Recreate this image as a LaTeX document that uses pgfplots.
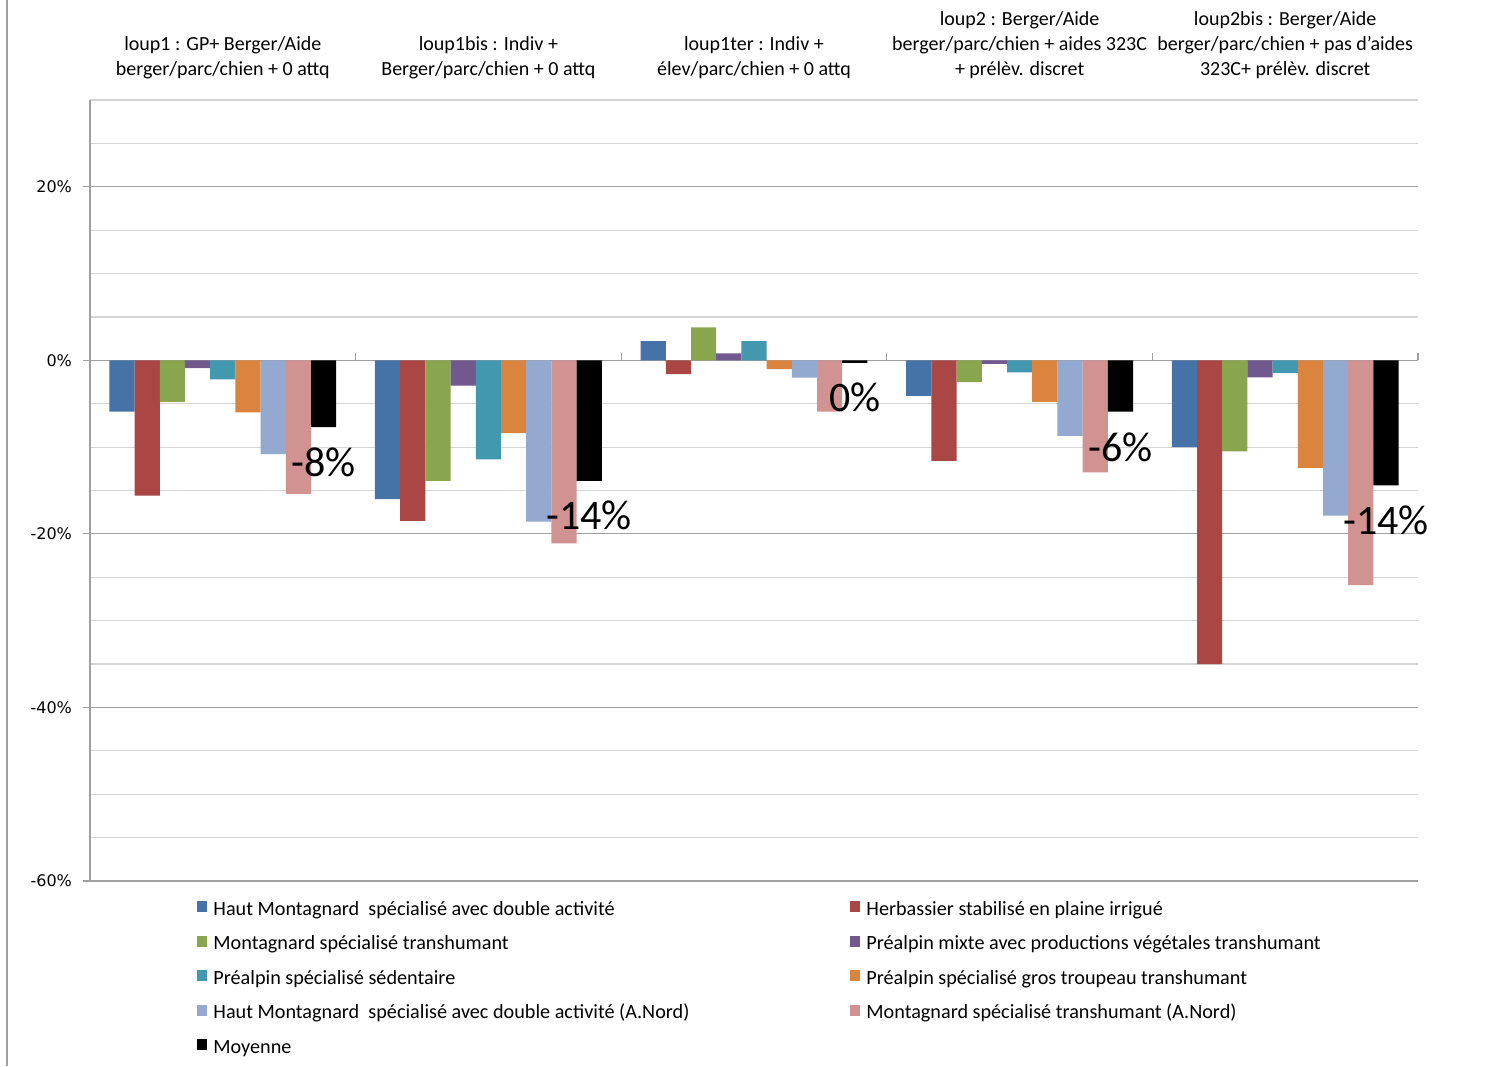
\documentclass[border=0pt]{standalone}
\usepackage{fontspec}
\setmainfont{Carlito}
\newfontfamily\tickfont{DejaVu Sans}
\usepackage{pgfplots}
\pgfplotsset{compat=1.18}
\definecolor{c1}{HTML}{4572A7}
\definecolor{c2}{HTML}{AA4643}
\definecolor{c3}{HTML}{89A54E}
\definecolor{c4}{HTML}{71588F}
\definecolor{c5}{HTML}{4198AF}
\definecolor{c6}{HTML}{DB843D}
\definecolor{c7}{HTML}{93A9CF}
\definecolor{c8}{HTML}{D19392}
\definecolor{c9}{HTML}{000000}
\definecolor{gridc}{HTML}{A0A0A0}
\definecolor{gridm}{HTML}{D4D4D4}
\newcommand{\cw}[1]{\makebox[315.5pt][l]{#1}}
\begin{document}
\begin{tikzpicture}
\useasboundingbox (-45pt,-92.5pt) rectangle (707pt,440.5pt);
\fill[white] (-45pt,-92.5pt) rectangle (707pt,440.5pt);
\draw[gridc, line width=0.8pt] (-41.5pt,-92.5pt) -- (-41.5pt,440.5pt);
\begin{axis}[
  scale only axis, width=664pt, height=390.5pt,
  xmin=-0.5, xmax=4.5, ymin=-60, ymax=30,
  clip mode=individual,
  ybar=0pt, bar width=12.6pt,
  axis y line*=left, axis x line*=top,
  x axis line style={draw=none},
  y axis line style={draw=gridc, line width=0.6pt},
  tick align=outside, major tick length=3.5pt,
  xtick={0,1,2,3,4},
  major x tick style={draw=none},
  xticklabels={{loup1 : GP+ Berger/Aide\\berger/parc/chien + 0 attq},
    {loup1bis : Indiv +\\Berger/parc/chien + 0 attq},
    {loup1ter : Indiv +\\élev/parc/chien + 0 attq},
    {loup2 : Berger/Aide\\berger/parc/chien + aides 323C\\+ prélèv. discret},
    {loup2bis : Berger/Aide\\berger/parc/chien + pas d’aides\\323C+ prélèv. discret}},
  xticklabel style={align=center, anchor=south, inner sep=0pt, yshift=7pt,
    font=\fontsize{10}{12.5}\selectfont},
  ytick={-60,-40,-20,0,20},
  minor ytick={-55,-50,-45,-35,-30,-25,-15,-10,-5,5,10,15,25,30},
  yticklabel={\tickfont\pgfmathprintnumber[assume math mode=true]{\tick}\%},
  yticklabel style={font=\fontsize{8}{9}\selectfont, xshift=-2pt},
  major y tick style={draw=gridc, line width=0.6pt},
  minor y tick style={draw=none},
  ymajorgrids, yminorgrids,
  major grid style={draw=gridc, line width=0.6pt},
  minor grid style={draw=gridm, line width=0.6pt},
  legend columns=2,
  legend style={at={(0.0806,-0.0256)}, anchor=north west, draw=none, fill=none,
    inner sep=0pt, column sep=3pt, row sep=8.25pt,
    font=\fontsize{10.1}{11}\selectfont,
    nodes={inner sep=0pt, text height=7pt, text depth=2pt}},
  legend cell align=left,
  legend image code/.code={\fill[#1] (0pt,-1pt) rectangle (5pt,4.5pt);},
]
\draw[gridc, line width=0.6pt] (axis cs:-0.5,0) -- (axis cs:4.5,0);
\draw[gridc, line width=0.6pt] (axis cs:0.5,0) -- ([yshift=3.5pt]axis cs:0.5,0);
\draw[gridc, line width=0.6pt] (axis cs:1.5,0) -- ([yshift=3.5pt]axis cs:1.5,0);
\draw[gridc, line width=0.6pt] (axis cs:2.5,0) -- ([yshift=3.5pt]axis cs:2.5,0);
\draw[gridc, line width=0.6pt] (axis cs:3.5,0) -- ([yshift=3.5pt]axis cs:3.5,0);
\draw[gridc, line width=0.6pt] (axis cs:4.5,0) -- ([yshift=3.5pt]axis cs:4.5,0);
\addplot[fill=c1, draw=none] coordinates {(0,-5.9) (1,-16.0) (2,2.2) (3,-4.1) (4,-10.0)};
\addplot[fill=c2, draw=none] coordinates {(0,-15.6) (1,-18.5) (2,-1.6) (3,-11.6) (4,-35.0)};
\addplot[fill=c3, draw=none] coordinates {(0,-4.8) (1,-13.9) (2,3.8) (3,-2.5) (4,-10.5)};
\addplot[fill=c4, draw=none] coordinates {(0,-0.9) (1,-2.9) (2,0.8) (3,-0.4) (4,-1.95)};
\addplot[fill=c5, draw=none] coordinates {(0,-2.2) (1,-11.4) (2,2.2) (3,-1.4) (4,-1.45)};
\addplot[fill=c6, draw=none] coordinates {(0,-6.0) (1,-8.4) (2,-1.0) (3,-4.8) (4,-12.4)};
\addplot[fill=c7, draw=none] coordinates {(0,-10.8) (1,-18.6) (2,-2.0) (3,-8.7) (4,-17.9)};
\addplot[fill=c8, draw=none] coordinates {(0,-15.4) (1,-21.1) (2,-5.9) (3,-12.9) (4,-25.9)};
\addplot[fill=c9, draw=none] coordinates {(0,-7.7) (1,-13.9) (2,-0.3) (3,-5.9) (4,-14.4)};
\legend{\cw{Haut Montagnard\ \ spécialisé avec double activité},
  Herbassier stabilisé\ en plaine irrigué,
  \cw{Montagnard\ spécialisé transhumant},
  Préalpin mixte avec productions végétales transhumant,
  \cw{Préalpin spécialisé sédentaire},
  Préalpin spécialisé gros troupeau transhumant,
  \cw{Haut Montagnard\ \ spécialisé avec double activité\ (A.Nord)},
  Montagnard\ spécialisé transhumant\ (A.Nord),
  Moyenne}
\node[font=\fontsize{21}{24}\selectfont, inner sep=0pt] at (axis cs:0.3795,-11.8) {-8\%};
\node[font=\fontsize{21}{24}\selectfont, inner sep=0pt] at (axis cs:1.3795,-17.9) {-14\%};
\node[font=\fontsize{21}{24}\selectfont, inner sep=0pt] at (axis cs:2.3795,-4.3) {0\%};
\node[font=\fontsize{21}{24}\selectfont, inner sep=0pt] at (axis cs:3.3795,-10.0) {-6\%};
\node[font=\fontsize{21}{24}\selectfont, inner sep=0pt] at (axis cs:4.3795,-18.4) {-14\%};
\end{axis}
\end{tikzpicture}
\end{document}
